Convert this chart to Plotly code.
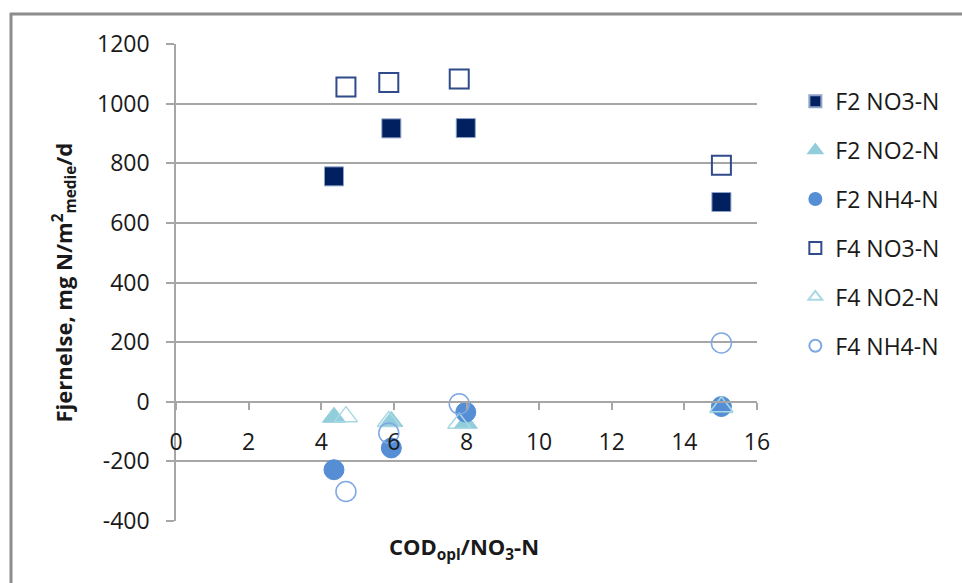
import plotly.graph_objects as go

# Data
f2_x = [4.35, 5.93, 7.98, 15.02]
f4_x = [4.68, 5.86, 7.8, 15.02]

f2_no3 = [756, 917, 918, 670]
f2_no2 = [-52, -66, -72, -20]
f2_nh4 = [-228, -155, -35, -16]

f4_no3 = [1056, 1071, 1083, 793]
f4_no2 = [-50, -66, -72, -17]
f4_nh4 = [-301, -105, -7, 197]

series_names = ["F2 NO3-N", "F2 NO2-N", "F2 NH4-N", "F4 NO3-N", "F4 NO2-N", "F4 NH4-N"]

y_ticks = [-400, -200, 0, 200, 400, 600, 800, 1000, 1200]
x_ticks = [0, 2, 4, 6, 8, 10, 12, 14, 16]

NAVY = "#002060"
LTBLUE = "#92CDDC"
MIDBLUE = "#558ED5"

fig = go.Figure()

fig.add_trace(go.Scatter(x=f2_x, y=f2_no3, mode="markers", name=series_names[0], legendgroup="a",
                         marker=dict(symbol="square", size=19, color=NAVY,
                                     line=dict(color="#8FA2C8", width=1))))
fig.add_trace(go.Scatter(x=f2_x, y=f2_no2, mode="markers", name=series_names[1], legendgroup="b",
                         marker=dict(symbol="triangle-up", size=20, color=LTBLUE,
                                     line=dict(color=LTBLUE, width=1))))
fig.add_trace(go.Scatter(x=f2_x, y=f2_nh4, mode="markers", name=series_names[2], legendgroup="c",
                         marker=dict(symbol="circle", size=20, color=MIDBLUE,
                                     line=dict(color=MIDBLUE, width=1))))
fig.add_trace(go.Scatter(x=f4_x, y=f4_no3, mode="markers", name=series_names[3], legendgroup="d",
                         marker=dict(symbol="square-open", size=19, color="#2F4B8A",
                                     line=dict(width=2))))
fig.add_trace(go.Scatter(x=f4_x, y=f4_no2, mode="markers", name=series_names[4], legendgroup="e",
                         marker=dict(symbol="triangle-up-open", size=20, color="#A9D8E4",
                                     line=dict(width=1.5))))
fig.add_trace(go.Scatter(x=f4_x, y=f4_nh4, mode="markers", name=series_names[5], legendgroup="f",
                         marker=dict(symbol="circle-open", size=20, color="#7EA8E4",
                                     line=dict(width=1.5))))

GRID = "#A6A6A6"
FONT = "Open Sans"
TXT = "#1a1a1a"

fig.update_layout(
    width=962, height=583,
    margin=dict(l=176, r=205, t=44, b=62),
    paper_bgcolor="white", plot_bgcolor="white",
    font=dict(family=FONT, color=TXT),
    showlegend=True,
    legend=dict(x=1.066, y=0.925, xanchor="left", yanchor="top",
                font=dict(family=FONT, size=23, color=TXT),
                itemsizing="constant", tracegroupgap=16,
                bgcolor="rgba(0,0,0,0)"),
    xaxis=dict(range=[0, 16], tickvals=x_ticks, ticktext=[str(v) for v in x_ticks],
               showgrid=False, zeroline=False,
               showline=True, linecolor=GRID, linewidth=1.5,
               ticks="outside", ticklen=7, tickcolor=GRID, tickwidth=1.5,
               tickfont=dict(family=FONT, size=23, color=TXT),
               ticklabelstandoff=13,
               anchor="free", position=0.25),
    yaxis=dict(range=[-400, 1200], tickvals=y_ticks, ticktext=[str(v) for v in y_ticks],
               showgrid=True, gridcolor=GRID, gridwidth=1.5, zeroline=False,
               showline=True, linecolor=GRID, linewidth=1.5,
               ticks="outside", ticklen=8, tickcolor=GRID, tickwidth=1.5,
               tickfont=dict(family=FONT, size=23, color=TXT),
               ticklabelstandoff=12),
)

# Axis titles
fig.add_annotation(text="<b>COD<sub>opl</sub>/NO<sub>3</sub>-N</b>", xref="paper", yref="paper",
                   x=0.495, y=0, yshift=-27, xanchor="center", yanchor="middle",
                   showarrow=False, font=dict(family=FONT, size=22, color=TXT))
fig.add_annotation(text="<b>Fjernelse, mg N/m<sup>2</sup><sub>medie</sub>/d</b>", xref="paper", yref="paper",
                   x=0, xshift=-112, y=0.5, textangle=-90, xanchor="center", yanchor="middle",
                   showarrow=False, font=dict(family=FONT, size=22, color=TXT))

# Outer chart border (top and left visible)
W, H = 962 - 176 - 205, 583 - 44 - 62
def px(xp):
    return (xp - 176) / W
def py(yp):
    return 1 - (yp - 44) / H
fig.add_shape(type="line", xref="paper", yref="paper", x0=px(10), x1=px(970), y0=py(14), y1=py(14),
              line=dict(color="#8C8C8C", width=3))
fig.add_shape(type="line", xref="paper", yref="paper", x0=px(11), x1=px(11), y0=py(13), y1=py(600),
              line=dict(color="#8C8C8C", width=3))

fig.write_html("out.html", config={"displayModeBar": False},
               post_script="document.body.style.margin='0';document.body.style.overflow='hidden';")
